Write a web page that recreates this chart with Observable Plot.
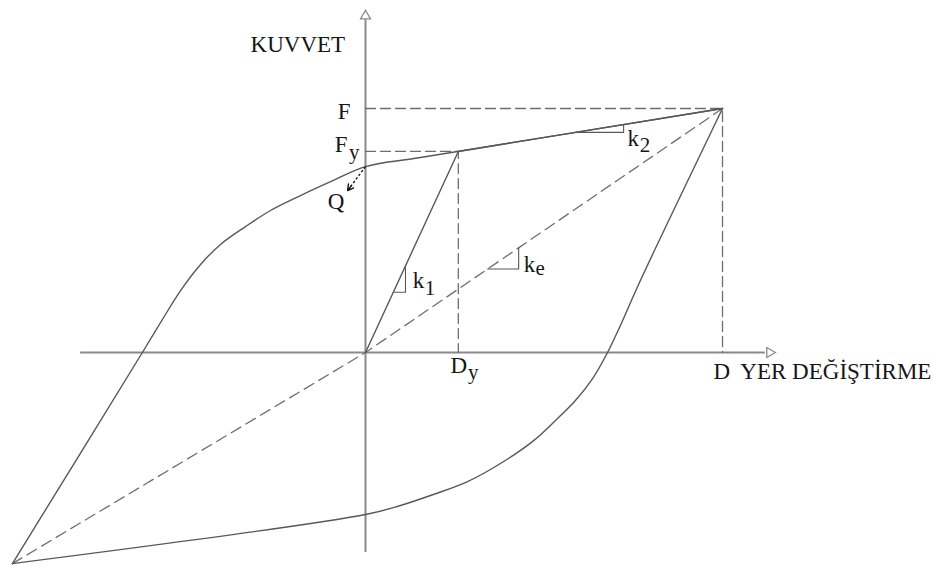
<!DOCTYPE html>
<html>
<head>
<meta charset="utf-8">
<script src="https://cdn.jsdelivr.net/npm/d3@7"></script>
<script src="https://cdn.jsdelivr.net/npm/@observablehq/plot@0.6"></script>
<style>
  html, body { margin: 0; padding: 0; background: #fff; }
  #chart svg { display: block; }
</style>
</head>
<body>
<div id="chart"></div>
<script>
// Bilinear hysteresis model: force (KUVVET) vs displacement (YER DEĞİŞTİRME)
const D = 10, F = 10;          // peak displacement and force
const Dy = 2.6, Fy = 8.24;     // yield displacement and force
const Q = 7.62;                // characteristic strength (k2 line intercept)
const negD = -9.89, negF = -8.65; // opposite peak of the loop

// initial loading: origin -> yield -> peak
const loadX = [0, Dy, D];
const loadY = [0, Fy, F];

// unloading branch: peak -> opposite peak
const unloadX = [D, 7.70, 7.14, 6.78, 6.36, 5.88, 5.32, 4.71, 3.78, 2.86, 1.90, 0.98, 0, negD];
const unloadY = [F, 2.95, 1.11, 0, -1.07, -1.97, -2.79, -3.61, -4.55, -5.29, -5.82, -6.27, -6.64, negF];

// reloading branch: opposite peak -> Q -> peak
const reloadX = [negD, -6.25, -5.74, -5.18, -4.62, -4.06, -3.36, -2.66, -1.82, -0.90, 0, 1.54, D];
const reloadY = [negF, 0, 1.23, 2.54, 3.61, 4.43, 5.16, 5.82, 6.43, 7.05, Q, 7.99, F];

// effective stiffness secant
const secantX = [negD, 0, D];
const secantY = [negF, 0, F];

// slope markers (horizontal leg, then vertical leg)
const triK1 = [[0.78, 2.47], [1.12, 2.47], [1.12, 3.55]];
const triKe = [[3.42, 3.42], [4.29, 3.42], [4.29, 4.29]];
const triK2 = [[5.88, 9.02], [7.23, 9.02], [7.23, 9.34]];

// axis extents
const xAxisFrom = -7.98, xAxisTo = 11.2, xArrow = 11.32;
const yAxisFrom = -8.2, yAxisTo = 13.73, yArrow = 13.79;

// Q arrow end
const qArrowEnd = [-0.5, 6.64];

// main labels (baseline positions)
const labelText   = ["KUVVET", "F", "F", "Q", "k", "k", "k", "D", "D", "YER DEĞİŞTİRME"];
const labelX      = [-3.22, -0.42, -0.50, -1.06, 1.32, 4.43, 7.34, 2.38, 9.75, 10.5];
const labelY      = [12.30, 9.59, 8.20, 5.90, 2.66, 3.28, 8.48, -0.82, -1.07, -1.07];
const labelAnchor = ["start", "end", "end", "start", "start", "start", "start", "start", "start", "start"];

// subscripts (baseline positions)
const subText = ["y", "1", "e", "2", "y"];
const subX    = [-0.46, 1.66, 4.76, 7.68, 2.87];
const subY    = [7.95, 2.34, 3.16, 8.20, -1.07];

const rows = (xs, ys) => xs.map((x, i) => ({x, y: ys[i]}));
const pts = (a) => a.map(([x, y]) => ({x, y}));
const labels = labelText.map((t, i) => ({t, x: labelX[i], y: labelY[i], a: labelAnchor[i]}));
const subs = subText.map((t, i) => ({t, x: subX[i], y: subY[i]}));

const curveColor = "#585858";
const dashColor = "#6e6e6e";
const axisColor = "#8a8a8a";
const font = "'Liberation Serif', 'Times New Roman', Times, serif";
const textStyle = {x: "x", y: "y", text: "t", lineAnchor: "bottom", fontSize: 23, fontFamily: font, fill: "#161616"};

const chart = Plot.plot({
  width: 933,
  height: 567,
  margin: 0,
  x: {domain: [-10.224, 15.91], axis: null},
  y: {domain: [-8.811, 14.426], axis: null},
  style: {background: "#fff", fontFamily: font},
  marks: [
    // axes
    Plot.ruleY([0], {x1: xAxisFrom, x2: xAxisTo, stroke: axisColor, strokeWidth: 2}),
    Plot.ruleX([0], {y1: yAxisFrom, y2: yAxisTo, stroke: axisColor, strokeWidth: 2}),
    Plot.dot([{x: xArrow, y: 0}], {x: "x", y: "y", symbol: "triangle", rotate: 90, r: 3.7, fill: "#fff", stroke: axisColor, strokeWidth: 1.3}),
    Plot.dot([{x: 0, y: yArrow}], {x: "x", y: "y", symbol: "triangle", r: 3.7, fill: "#fff", stroke: axisColor, strokeWidth: 1.3}),

    // guide lines to F, D, Fy, Dy
    Plot.line([{x: 0, y: F}, {x: D, y: F}, {x: D, y: 0}], {x: "x", y: "y", stroke: dashColor, strokeWidth: 1.3, strokeDasharray: "10,5"}),
    Plot.line([{x: 0, y: Fy}, {x: Dy, y: Fy}, {x: Dy, y: 0}], {x: "x", y: "y", stroke: dashColor, strokeWidth: 1.3, strokeDasharray: "10,5"}),

    // secant stiffness
    Plot.line(rows(secantX, secantY), {x: "x", y: "y", stroke: dashColor, strokeWidth: 1.3, strokeDasharray: "11,6"}),

    // hysteresis loop
    Plot.line(rows(unloadX, unloadY), {x: "x", y: "y", curve: "catmull-rom", stroke: curveColor, strokeWidth: 1.4}),
    Plot.line(rows(reloadX, reloadY), {x: "x", y: "y", curve: "catmull-rom", stroke: curveColor, strokeWidth: 1.4}),
    Plot.line(rows(loadX, loadY), {x: "x", y: "y", stroke: curveColor, strokeWidth: 1.4}),

    // slope markers
    Plot.line(pts(triK1), {x: "x", y: "y", stroke: curveColor, strokeWidth: 1.1}),
    Plot.line(pts(triKe), {x: "x", y: "y", stroke: curveColor, strokeWidth: 1.1}),
    Plot.line(pts(triK2), {x: "x", y: "y", stroke: curveColor, strokeWidth: 1.1}),

    // Q pointer: dashed shaft plus a solid head at its end
    Plot.link([{x1: 0, y1: Q, x2: qArrowEnd[0], y2: qArrowEnd[1]}], {x1: "x1", y1: "y1", x2: "x2", y2: "y2", stroke: "#111", strokeWidth: 1.3, strokeDasharray: "2.5,2"}),
    Plot.arrow([{x1: 0, y1: Q, x2: qArrowEnd[0], y2: qArrowEnd[1]}], {x1: "x1", y1: "y1", x2: "x2", y2: "y2", stroke: "#111", strokeWidth: 1.4, headLength: 7, insetStart: 24}),

    // labels and subscripts
    Plot.text(labels.filter((d) => d.a === "start"), {...textStyle, textAnchor: "start"}),
    Plot.text(labels.filter((d) => d.a === "end"), {...textStyle, textAnchor: "end"}),
    Plot.text(subs, {...textStyle, fontSize: 21, textAnchor: "start"})
  ]
});

document.getElementById("chart").append(chart);
</script>
</body>
</html>
